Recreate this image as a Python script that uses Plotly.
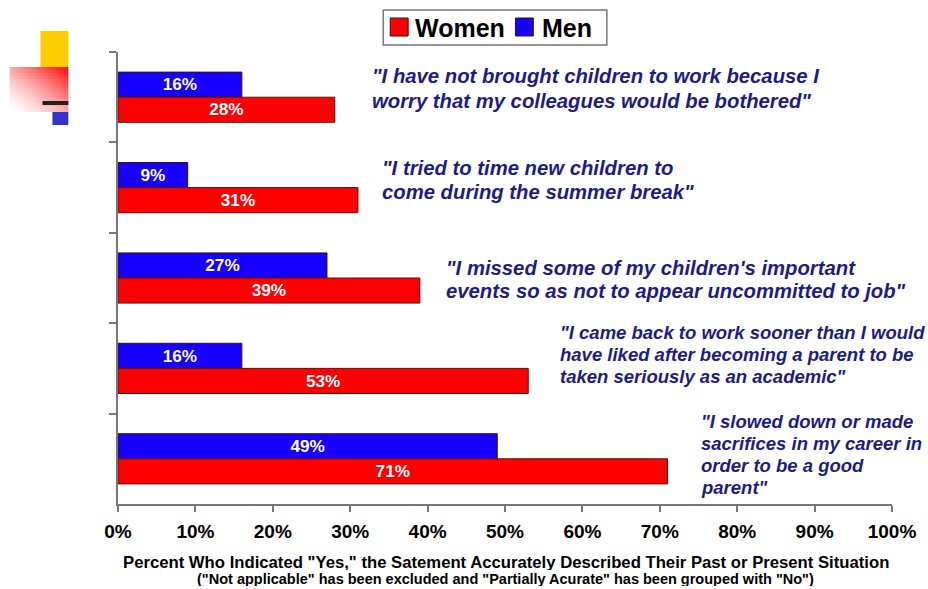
import plotly.graph_objects as go

# Survey statements (one per bar group) and percentages answering "Yes"
statements = [
    '"I have not brought children to work because I<br>worry that my colleagues would be bothered"',
    '"I tried to time new children to<br>come during the summer break"',
    '"I missed some of my children\'s important<br>events so as not to appear uncommitted to job"',
    '"I came back to work sooner than I would<br>have liked after becoming a parent to be<br>taken seriously as an academic"',
    '"I slowed down or made<br>sacrifices in my career in<br>order to be a good<br>parent"',
]
women = [28, 31, 39, 53, 71]
men = [16, 9, 27, 16, 49]
tick_values = [0, 10, 20, 30, 40, 50, 60, 70, 80, 90, 100]
tick_labels = [f"{v}%" for v in tick_values]
series_names = ["Women", "Men"]

W, H = 928, 589
ML, MR, MT, MB = 118, 31, 52, 85
PW, PH = W - ML - MR, H - MT - MB


def px(x):
    return (x - ML) / PW


def py(y):
    return (H - MB - y) / PH


QUOTE_COLOR = "#1c1c86"
RED, BLUE = "#ff0000", "#1800ff"
FONT = "Liberation Sans, Arial, sans-serif"

fig = go.Figure()
idx = list(range(len(statements)))

fig.add_trace(go.Bar(
    y=idx, x=men, orientation="h", name=series_names[1],
    marker=dict(color=BLUE, line=dict(color="#3a1010", width=1)),
    text=[f"{v}%" for v in men], textposition="inside",
    insidetextanchor="middle",
    textfont=dict(family=FONT, size=18, color="white", weight="bold"),
    hovertext=statements,
))
fig.add_trace(go.Bar(
    y=idx, x=women, orientation="h", name=series_names[0],
    marker=dict(color=RED, line=dict(color="#5a1010", width=1)),
    text=[f"{v}%" for v in women], textposition="inside",
    insidetextanchor="middle",
    textfont=dict(family=FONT, size=18, color="white", weight="bold"),
    hovertext=statements,
))

# Quote layout: (left edge in axis units, first-line offset px, line step px, font size)
quote_pos = [
    (32.6, -21, 25, 20.3),
    (33.8, -19.5, 24, 20.3),
    (42.1, -10, 23, 20.3),
    (56.9, -35.5, 22, 18.5),
    (75.1, -37, 22, 18.5),
]
for i, (s, (qx, first, step_px, fs)) in enumerate(zip(statements, quote_pos)):
    for j, line in enumerate(s.split("<br>")):
        fig.add_annotation(
            x=qx, y=i, xref="x", yref="y", text=line, showarrow=False,
            xanchor="left", yanchor="middle", align="left",
            yshift=-(first + j * step_px),
            font=dict(family=FONT, size=fs, color=QUOTE_COLOR,
                      weight="bold", style="italic"),
        )

# Axis caption (two lines)
fig.add_annotation(
    x=px(509), y=py(562), xref="paper", yref="paper", showarrow=False,
    xanchor="center", yanchor="middle", height=16, borderpad=0,
    text='Percent Who Indicated "Yes," the Satement Accurately Described Their Past or Present Situation',
    font=dict(family=FONT, size=16.7, color="black", weight="bold"),
)
fig.add_annotation(
    x=px(508), y=py(578.5), xref="paper", yref="paper", showarrow=False,
    xanchor="center", yanchor="middle", height=14, borderpad=0,
    text='("Not applicable" has been excluded and "Partially Acurate" has been grouped with "No")',
    font=dict(family=FONT, size=14.5, color="black", weight="bold"),
)

shapes = []

# Legend box with colour keys
shapes.append(dict(type="rect", xref="paper", yref="paper",
                   x0=px(385), x1=px(610), y0=py(45), y1=py(10),
                   fillcolor="white", line=dict(color="#777777", width=1.5),
                   layer="above"))
for (k0, k1), col in zip([(392, 410), (518, 536)], [RED, BLUE]):
    shapes.append(dict(type="rect", xref="paper", yref="paper",
                       x0=px(k0), x1=px(k1), y0=py(36), y1=py(18),
                       fillcolor=col, line=dict(color="#3a1010", width=1),
                       layer="above"))
for lx, name in zip([415, 543], series_names):
    fig.add_annotation(
        x=px(lx), y=py(27.5), xref="paper", yref="paper", showarrow=False,
        xanchor="left", yanchor="middle", text=name,
        font=dict(family=FONT, size=25, color="black", weight="bold"),
    )

# Decorative slide ornament in the top-left corner
shapes.append(dict(type="rect", xref="paper", yref="paper",
                   x0=px(40), x1=px(68), y0=py(67), y1=py(31),
                   fillcolor="#ffcc00", line=dict(width=0), layer="above"))
gx0, gx1, gy0, gy1 = 9, 68, 67, 112
step = 3
x = gx0
while x < gx1:
    y = gy0
    while y < gy1:
        cx = min(x + step, gx1)
        cy = min(y + step, gy1)
        t = ((x + step / 2 - gx0) / (gx1 - gx0) + (gy1 - (y + step / 2)) / (gy1 - gy0)) / 2
        t = max(0.0, min(1.0, t)) ** 1.5
        g = int(round(255 * (1 - t)))
        shapes.append(dict(type="rect", xref="paper", yref="paper",
                           x0=px(x), x1=px(min(cx + 0.5, gx1)),
                           y0=py(min(cy + 0.5, gy1)), y1=py(y),
                           fillcolor=f"rgb(255,{g},{g})", line=dict(width=0),
                           layer="above"))
        y += step
    x += step
shapes.append(dict(type="rect", xref="paper", yref="paper",
                   x0=px(42), x1=px(68), y0=py(105), y1=py(101),
                   fillcolor="#222222", line=dict(width=0), layer="above"))
shapes.append(dict(type="rect", xref="paper", yref="paper",
                   x0=px(52), x1=px(68), y0=py(125), y1=py(112),
                   fillcolor="#3333cc", line=dict(width=0), layer="above"))

fig.update_layout(
    width=W, height=H,
    margin=dict(l=ML, r=MR, t=MT, b=MB),
    paper_bgcolor="white", plot_bgcolor="white",
    barmode="group", bargap=0.445, bargroupgap=0,
    font=dict(family=FONT, color="black"),
    showlegend=False,
    shapes=shapes,
    xaxis=dict(
        range=[0, 100], tickvals=tick_values, ticktext=tick_labels,
        showgrid=False, zeroline=False,
        showline=True, linecolor="#777777", linewidth=2,
        ticks="outside", ticklen=6, tickcolor="#777777", tickwidth=1.5,
        ticklabelstandoff=3,
        tickfont=dict(family=FONT, size=19, color="black", weight="bold"),
    ),
    yaxis=dict(
        type="category", range=[len(statements) - 0.5, -0.5],
        showticklabels=False, showgrid=False, zeroline=False,
        showline=True, linecolor="#777777", linewidth=2,
        ticks="outside", tickson="boundaries", ticklen=7,
        tickcolor="#777777", tickwidth=1.5,
    ),
)

fig.write_html("out.html")
